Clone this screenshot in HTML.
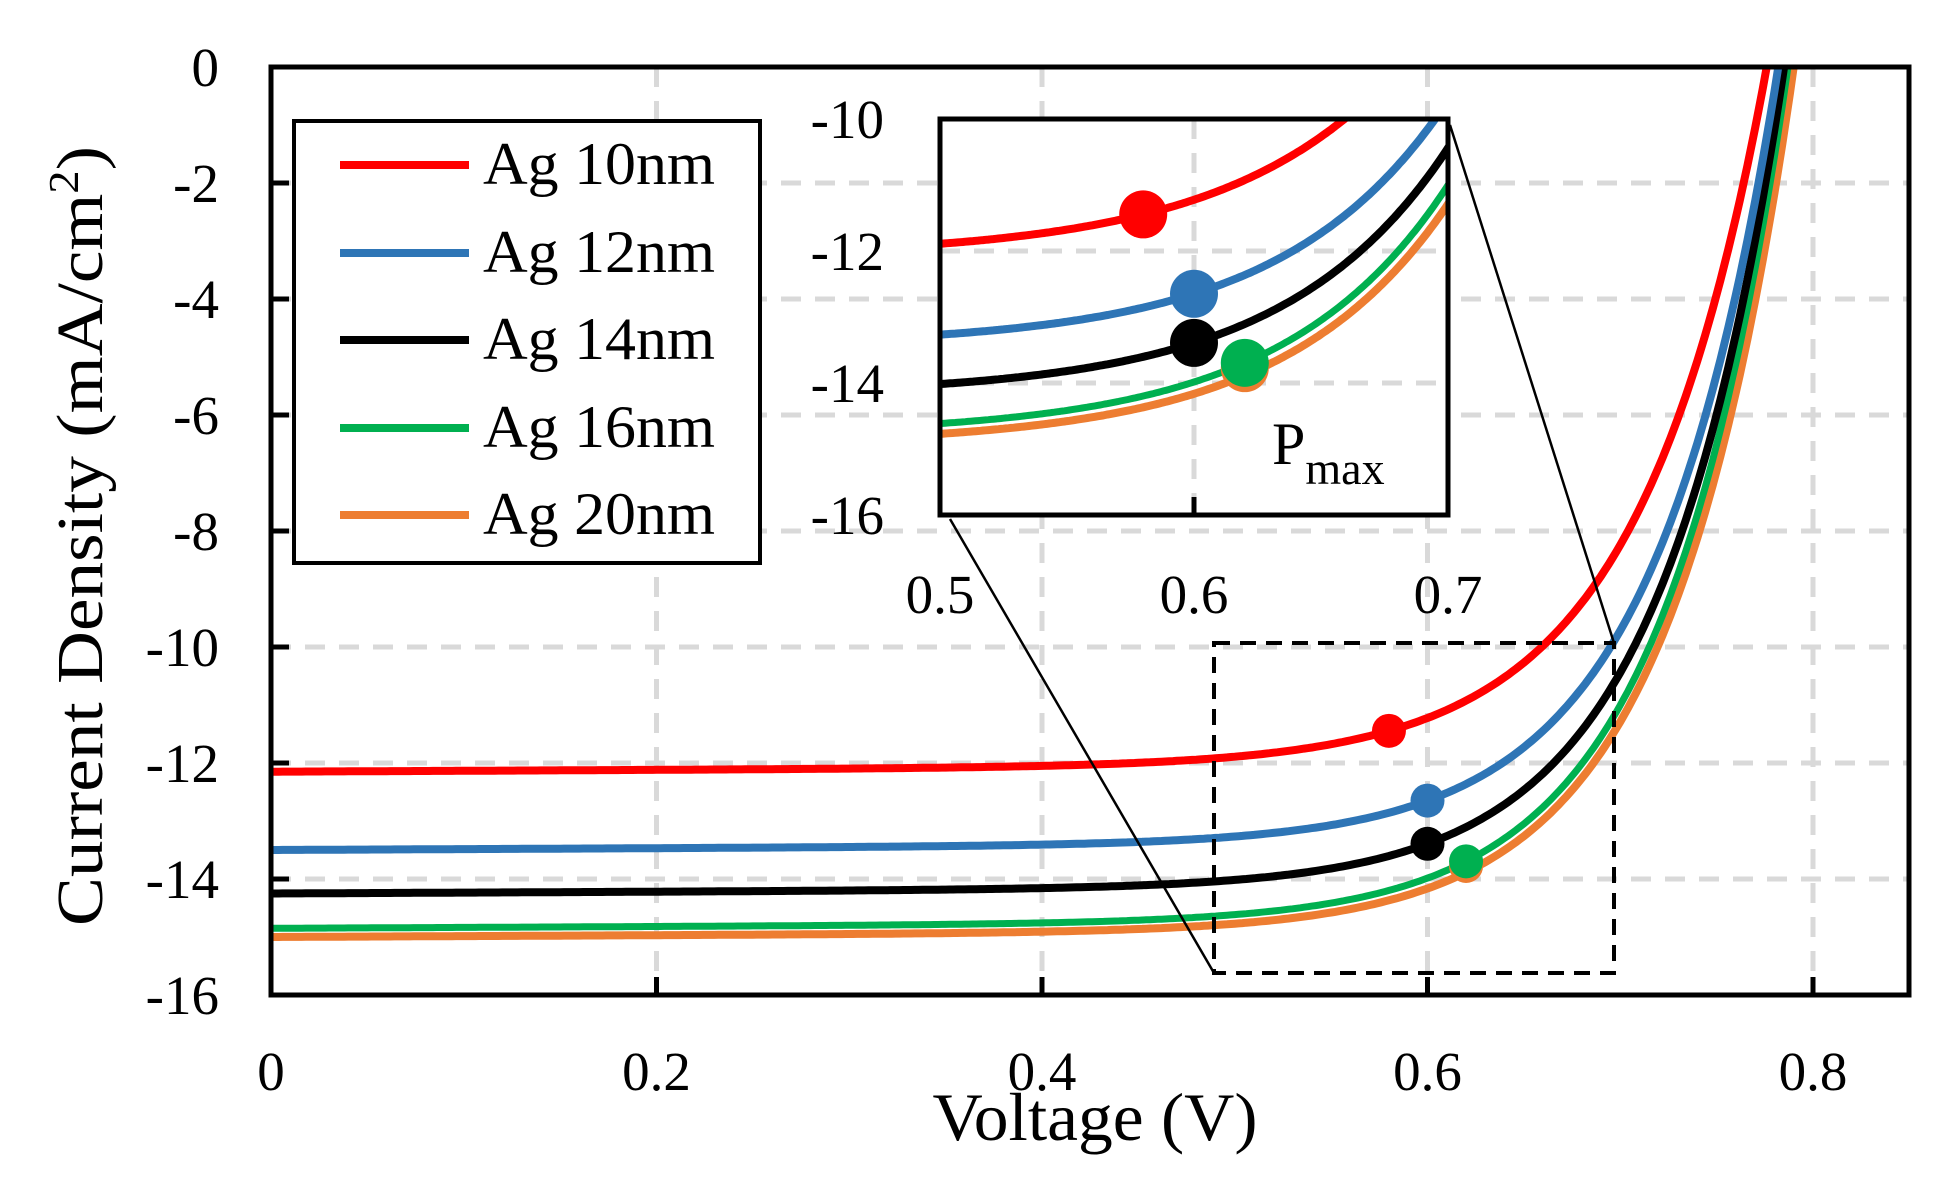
<!DOCTYPE html>
<html><head><meta charset="utf-8"><style>
html,body{margin:0;padding:0;background:#fff;}
svg{display:block;}
text{font-family:"Liberation Serif",serif;fill:#000;}
</style></head><body>
<svg id="s" width="1951" height="1177" viewBox="0 0 1951 1177" xmlns="http://www.w3.org/2000/svg">
<defs>
<clipPath id="cm"><rect x="271" y="67" width="1638" height="928"/></clipPath>
<clipPath id="ci"><rect x="940" y="119" width="508" height="396"/></clipPath>
</defs>
<g id="grid" stroke="#d9d9d9" stroke-width="5" stroke-dasharray="20 14"></g>
<g id="main" clip-path="url(#cm)"></g>
<rect x="271" y="67" width="1638" height="928" fill="none" stroke="#000" stroke-width="5"/>
<g id="ticks" stroke="#000" stroke-width="5"></g>
<rect x="1214" y="643" width="400" height="330" fill="none" stroke="#000" stroke-width="4" stroke-dasharray="16 10"/>
<line x1="1450" y1="125" x2="1614" y2="643" stroke="#000" stroke-width="2.5"/>
<line x1="950" y1="519" x2="1214" y2="973" stroke="#000" stroke-width="2.5"/>
<rect x="294" y="121" width="466" height="442" fill="#fff" stroke="#000" stroke-width="4"/>
<g stroke-width="8">
<line x1="340" y1="165" x2="469" y2="165" stroke="#ff0000"/>
<line x1="340" y1="253" x2="469" y2="253" stroke="#2e75b6"/>
<line x1="340" y1="340" x2="469" y2="340" stroke="#000"/>
<line x1="340" y1="428" x2="469" y2="428" stroke="#00b050"/>
<line x1="340" y1="515" x2="469" y2="515" stroke="#ed7d31"/>
</g>
<g font-size="60">
<text x="483" y="184" textLength="232" lengthAdjust="spacingAndGlyphs">Ag 10nm</text>
<text x="483" y="272" textLength="232" lengthAdjust="spacingAndGlyphs">Ag 12nm</text>
<text x="483" y="359" textLength="232" lengthAdjust="spacingAndGlyphs">Ag 14nm</text>
<text x="483" y="447" textLength="232" lengthAdjust="spacingAndGlyphs">Ag 16nm</text>
<text x="483" y="534" textLength="232" lengthAdjust="spacingAndGlyphs">Ag 20nm</text>
</g>
<rect x="940" y="119" width="508" height="396" fill="#fff"/>
<g id="igrid" stroke="#d9d9d9" stroke-width="5" stroke-dasharray="20 14"></g>
<g id="ins" clip-path="url(#ci)"></g>
<rect x="940" y="119" width="508" height="396" fill="none" stroke="#000" stroke-width="5"/>
<line x1="1194" y1="515" x2="1194" y2="497" stroke="#000" stroke-width="5"/>
<text x="1272" y="464" font-size="60">P<tspan font-size="46" dy="20">max</tspan></text>
<g id="lbl" font-size="55"></g>
<text x="1095" y="1140" font-size="68" text-anchor="middle" textLength="325" lengthAdjust="spacingAndGlyphs">Voltage (V)</text>
<text transform="translate(102,536) rotate(-90)" font-size="66" text-anchor="middle" textLength="780" lengthAdjust="spacingAndGlyphs">Current Density (mA/cm<tspan font-size="42" dy="-24">2</tspan><tspan dy="24">)</tspan></text>
</svg>
<script>
var NS="http://www.w3.org/2000/svg";
function el(p,t,a,txt){var e=document.createElementNS(NS,t);for(var k in a)e.setAttribute(k,a[k]);if(txt!==undefined)e.textContent=txt;document.getElementById(p).appendChild(e);return e;}
var X=function(v){return 271+v*1927.5;}, Y=function(j){return 67-j*58;};
var IX=function(v){return 940+(v-0.5)*2540;}, IY=function(j){return 119+(-10-j)*66;};
for(var i=1;i<=4;i++){el("grid","line",{x1:X(i*0.2),y1:67,x2:X(i*0.2),y2:995});}
for(var j=-2;j>=-14;j-=2){el("grid","line",{x1:271,y1:Y(j),x2:1909,y2:Y(j)});}
for(var i=1;i<=4;i++){el("ticks","line",{x1:X(i*0.2),y1:995,x2:X(i*0.2),y2:977});}
for(var j=-2;j>=-14;j-=2){el("ticks","line",{x1:271,y1:Y(j),x2:289,y2:Y(j)});}
for(var j=0;j>=-16;j-=2){el("lbl","text",{x:219,y:Y(j)+19,"text-anchor":"end"},String(j));}
var xl=["0","0.2","0.4","0.6","0.8"];
for(var i=0;i<5;i++){el("lbl","text",{x:X(i*0.2),y:1090,"text-anchor":"middle"},xl[i]);}
for(var j=-10;j>=-16;j-=2){el("lbl","text",{x:884,y:IY(j)+19,"text-anchor":"end"},String(j));}
[["0.5",0.5],["0.6",0.6],["0.7",0.7]].forEach(function(a){el("lbl","text",{x:IX(a[1]),y:613,"text-anchor":"middle"},a[0]);});
el("igrid","line",{x1:IX(0.6),y1:119,x2:IX(0.6),y2:497});
el("igrid","line",{x1:940,y1:IY(-12),x2:1448,y2:IY(-12)});
el("igrid","line",{x1:940,y1:IY(-14),x2:1448,y2:IY(-14)});
var S=[
 {c:"#ed7d31",jsc:15.0,voc:0.790,pm:0.62,w:8},
 {c:"#00b050",jsc:14.85,voc:0.787,pm:0.62,w:7},
 {c:"#000000",jsc:14.25,voc:0.785,pm:0.60,w:8},
 {c:"#2e75b6",jsc:13.5,voc:0.782,pm:0.60,w:8},
 {c:"#ff0000",jsc:12.15,voc:0.776,pm:0.58,w:8,m:0.066}
];
var s=0.15;
function J(o,v){var m=o.m||0.0635;var A=o.jsc-s*o.voc;return -o.jsc+s*v+A*Math.exp((v-o.voc)/m);}
S.forEach(function(o){
 var d="",di="";
 for(var v=0;v<=0.82;v+=0.002){var jj=J(o,v);if(jj>2)break;d+=(d?"L":"M")+X(v).toFixed(1)+","+Y(jj).toFixed(1);}
 for(var v=0.49;v<=0.72;v+=0.001){var jj=J(o,v);if(jj>-8)break;di+=(di?"L":"M")+IX(v).toFixed(1)+","+IY(jj).toFixed(1);}
 el("main","path",{d:d,fill:"none",stroke:o.c,"stroke-width":o.w});
 el("ins","path",{d:di,fill:"none",stroke:o.c,"stroke-width":o.w});
});
var G=S[1];
S.forEach(function(o){
 var jp, isO=(o.c=="#ed7d31");
 jp = isO ? J(G,o.pm)-0.08 : J(o,o.pm);
 el("main","circle",{cx:X(o.pm),cy:Y(jp),r:17,fill:o.c});
 el("ins","circle",{cx:IX(o.pm),cy:IY(jp),r:24,fill:o.c});
});
</script>
</body></html>
